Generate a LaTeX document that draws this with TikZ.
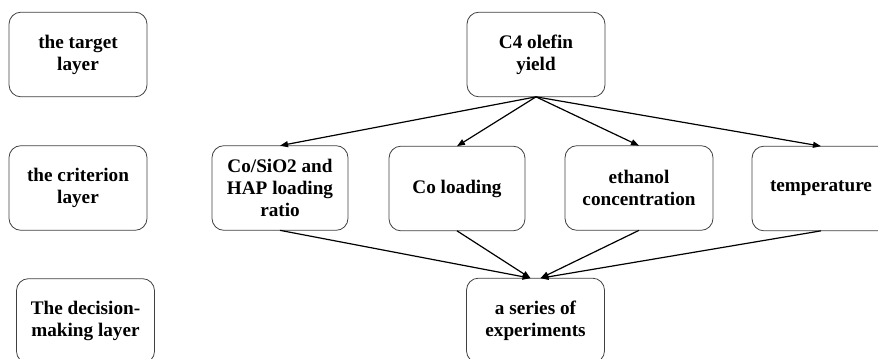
\documentclass[tikz,border=0pt]{standalone}
\usepackage{fontspec}
\setmainfont{Liberation Serif}
\usetikzlibrary{arrows.meta}

\begin{document}
\begin{tikzpicture}[x=0.75pt, y=-0.75pt,
        layerbox/.style={draw=black!75, line width=0.6pt, rounded corners=9pt,
            align=center, outer sep=0pt, inner sep=2pt,
            minimum width=103.5pt, minimum height=63.5pt,
            font=\fontsize{14.4}{16.5}\selectfont\bfseries},
        link/.style={line width=0.9pt, -{Triangle[length=6pt,width=4.5pt]}}]
    \useasboundingbox (0, 0) rectangle (878, 358);

    \node [layerbox] (target) at (78, 54.5) {the target\\layer};
    \node [layerbox] (criterion) at (78, 188) {the criterion\\layer};
    \node [layerbox] (decision) at (85.5, 321) {The decision-\\making layer};

    \node [layerbox] (yield) at (536, 54.5) {C4 olefin\\yield};

    \node [layerbox, minimum width=102pt] (ratio) at (280, 188)
        {Co/SiO2 and\\HAP loading\\ratio};
    \node [layerbox, minimum width=102pt] (coload) at (457, 188.5) {Co loading};
    \node [layerbox, minimum width=111pt] (ethanol) at (639, 188)
        {ethanol\\concentration};
    \node [layerbox] (temp) at (821, 188.5) {temperature};

    \node [layerbox] (exper) at (535.5, 320.5) {a series of\\experiments};
    \coordinate (inleft) at ([xshift=-3.75pt]exper.north);
    \coordinate (inright) at ([xshift=3.75pt]exper.north);

    \foreach \crit in {ratio, coload, ethanol, temp}
        \draw [link] (yield.south) -- (\crit.north);

    \draw [link] (ratio.south) -- (inleft);
    \draw [link] (coload.south) -- (inleft);
    \draw [link] (ethanol.south) -- (inright);
    \draw [link] (temp.south) -- (inright);

\end{tikzpicture}
\end{document}
